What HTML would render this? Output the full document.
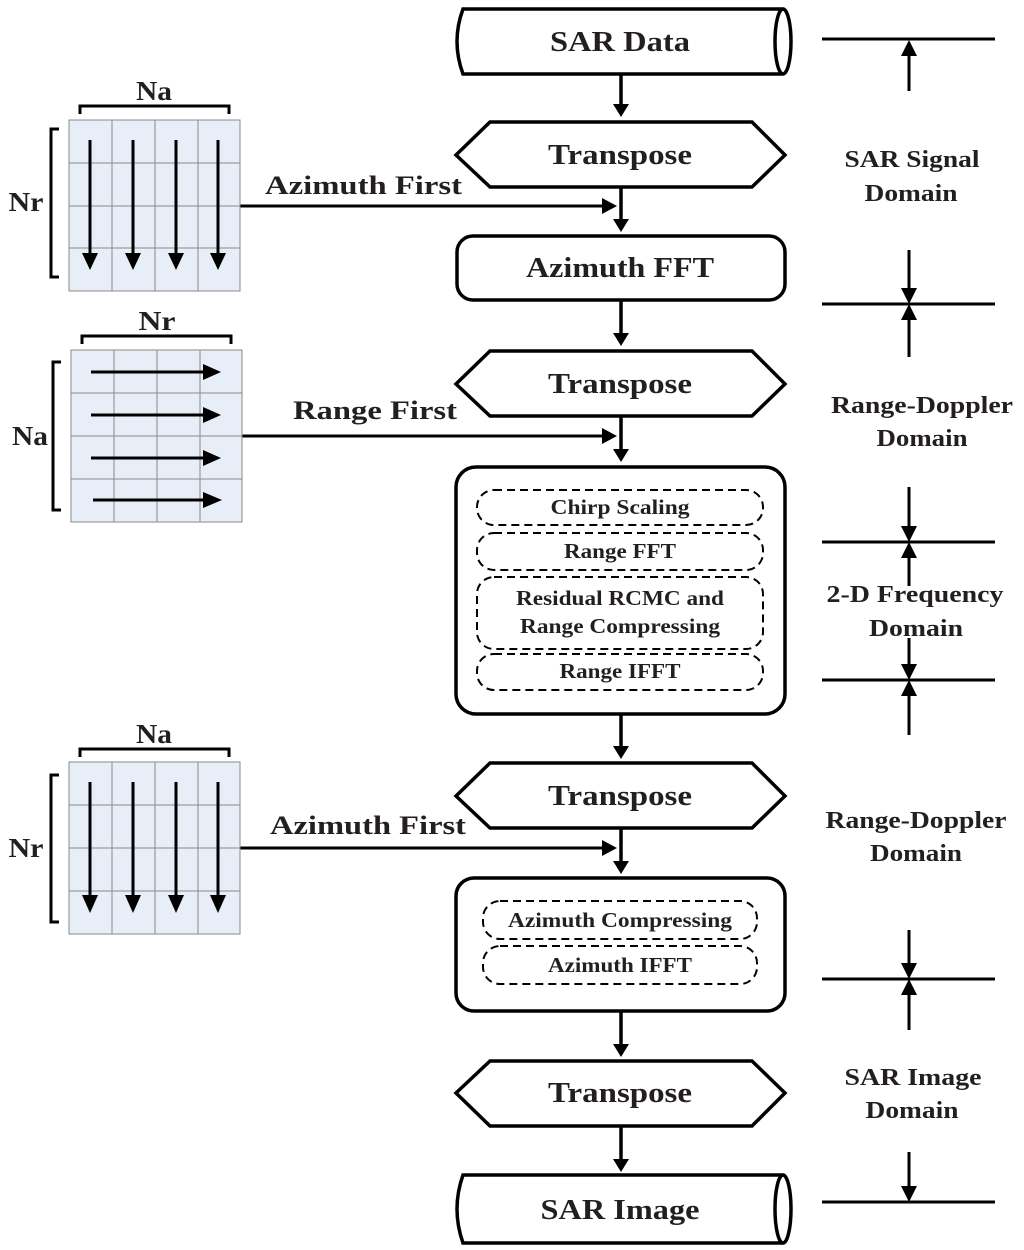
<!DOCTYPE html>
<html><head><meta charset="utf-8"><style>
html,body{margin:0;padding:0;background:#fff;}
svg{display:block;}
text{font-family:"Liberation Serif",serif;font-weight:bold;fill:#231f20;}
</style></head><body>
<svg width="1024" height="1250" viewBox="0 0 1024 1250" xmlns="http://www.w3.org/2000/svg">
<g stroke="#000" stroke-width="3.5" fill="none">
<path d="M463,9 L783,9 A8,32.5 0 0 1 783,74 L463,74 Q451,41.5 463,9 Z" fill="#fff"/>
<path d="M783,9 A8,32.5 0 0 0 783,74"/>
<polygon points="456,155 490,122 752,122 785,155 752,187 490,187" fill="#fff"/>
<rect x="457" y="236" width="328" height="64" rx="16" fill="#fff"/>
<polygon points="456,384 490,351 752,351 785,384 752,416 490,416" fill="#fff"/>
<rect x="456" y="467" width="329" height="247" rx="20" fill="#fff"/>
<polygon points="456,796 490,763 752,763 785,796 752,828 490,828" fill="#fff"/>
<rect x="456" y="878" width="329" height="133" rx="18" fill="#fff"/>
<polygon points="456,1093 490,1061 752,1061 785,1093 752,1126 490,1126" fill="#fff"/>
<path d="M463,1175 L783,1175 A8,34 0 0 1 783,1243 L463,1243 Q451,1209 463,1175 Z" fill="#fff"/>
<path d="M783,1175 A8,34 0 0 0 783,1243"/>
<line x1="621" y1="74" x2="621" y2="106"/>
<line x1="621" y1="187" x2="621" y2="220"/>
<line x1="621" y1="300" x2="621" y2="335"/>
<line x1="621" y1="416" x2="621" y2="450"/>
<line x1="621" y1="714" x2="621" y2="747"/>
<line x1="621" y1="828" x2="621" y2="862"/>
<line x1="621" y1="1011" x2="621" y2="1045"/>
<line x1="621" y1="1126" x2="621" y2="1160"/>
<line x1="240" y1="206" x2="604" y2="206" stroke-width="3"/>
<line x1="242" y1="436" x2="604" y2="436" stroke-width="3"/>
<line x1="240" y1="848" x2="604" y2="848" stroke-width="3"/>
</g>
<g fill="#000">
<polygon points="613,104 629,104 621,117"/>
<polygon points="613,219 629,219 621,232"/>
<polygon points="613,333 629,333 621,346"/>
<polygon points="613,449 629,449 621,462"/>
<polygon points="613,746 629,746 621,759"/>
<polygon points="613,861 629,861 621,874"/>
<polygon points="613,1044 629,1044 621,1057"/>
<polygon points="613,1159 629,1159 621,1172"/>
<polygon points="602,198 602,214 617,206"/>
<polygon points="602,428 602,444 617,436"/>
<polygon points="602,840 602,856 617,848"/>
</g>
<g stroke="#000" stroke-width="2" fill="none" stroke-dasharray="8,5">
<rect x="477" y="490" width="286" height="35" rx="17"/>
<rect x="477" y="533" width="286" height="37" rx="17"/>
<rect x="477" y="577" width="286" height="72" rx="17"/>
<rect x="477" y="654" width="286" height="36" rx="17"/>
<rect x="483" y="901" width="274" height="38" rx="17"/>
<rect x="483" y="946" width="274" height="38" rx="17"/>
</g>
<g text-anchor="middle" font-size="29" lengthAdjust="spacingAndGlyphs">
<text x="620" y="51" textLength="140" lengthAdjust="spacingAndGlyphs">SAR Data</text>
<text x="620" y="164" textLength="144" lengthAdjust="spacingAndGlyphs">Transpose</text>
<text x="620" y="277" textLength="188" lengthAdjust="spacingAndGlyphs">Azimuth FFT</text>
<text x="620" y="393" textLength="144" lengthAdjust="spacingAndGlyphs">Transpose</text>
<text x="620" y="805" textLength="144" lengthAdjust="spacingAndGlyphs">Transpose</text>
<text x="620" y="1102" textLength="144" lengthAdjust="spacingAndGlyphs">Transpose</text>
<text x="620" y="1219" textLength="159" lengthAdjust="spacingAndGlyphs">SAR Image</text>
</g>
<g text-anchor="middle" font-size="21">
<text x="620" y="514" textLength="139" lengthAdjust="spacingAndGlyphs">Chirp Scaling</text>
<text x="620" y="558" textLength="112" lengthAdjust="spacingAndGlyphs">Range FFT</text>
<text x="620" y="605" textLength="208" lengthAdjust="spacingAndGlyphs">Residual RCMC and</text>
<text x="620" y="633" textLength="200" lengthAdjust="spacingAndGlyphs">Range Compressing</text>
<text x="620" y="678" textLength="121" lengthAdjust="spacingAndGlyphs">Range IFFT</text>
<text x="620" y="927" textLength="224" lengthAdjust="spacingAndGlyphs">Azimuth Compressing</text>
<text x="620" y="972" textLength="144" lengthAdjust="spacingAndGlyphs">Azimuth IFFT</text>
</g>
<g font-size="26">
<text x="265" y="194" textLength="197" lengthAdjust="spacingAndGlyphs">Azimuth First</text>
<text x="293" y="419" textLength="164" lengthAdjust="spacingAndGlyphs">Range First</text>
<text x="270" y="834" textLength="196" lengthAdjust="spacingAndGlyphs">Azimuth First</text>
</g>
<g stroke="#000" stroke-width="3">
<line x1="822" y1="39" x2="995" y2="39"/>
<line x1="909" y1="52" x2="909" y2="91"/>
<line x1="822" y1="304" x2="995" y2="304"/>
<line x1="909" y1="250" x2="909" y2="292"/><line x1="909" y1="316" x2="909" y2="357"/>
<line x1="822" y1="542" x2="995" y2="542"/>
<line x1="909" y1="487" x2="909" y2="530"/><line x1="909" y1="554" x2="909" y2="586"/>
<line x1="822" y1="680" x2="995" y2="680"/>
<line x1="909" y1="638" x2="909" y2="668"/><line x1="909" y1="692" x2="909" y2="735"/>
<line x1="822" y1="979" x2="995" y2="979"/>
<line x1="909" y1="930" x2="909" y2="967"/><line x1="909" y1="991" x2="909" y2="1030"/>
<line x1="822" y1="1202" x2="995" y2="1202"/>
<line x1="909" y1="1152" x2="909" y2="1190"/>
</g>
<g fill="#000">
<polygon points="901,56 917,56 909,40"/>
<polygon points="901,288 917,288 909,304"/><polygon points="901,320 917,320 909,304"/>
<polygon points="901,526 917,526 909,542"/><polygon points="901,558 917,558 909,542"/>
<polygon points="901,664 917,664 909,680"/><polygon points="901,696 917,696 909,680"/>
<polygon points="901,963 917,963 909,979"/><polygon points="901,995 917,995 909,979"/>
<polygon points="901,1186 917,1186 909,1202"/>
</g>
<g text-anchor="middle" font-size="24">
<text x="912" y="167" textLength="135" lengthAdjust="spacingAndGlyphs">SAR Signal</text><text x="911" y="201" textLength="93" lengthAdjust="spacingAndGlyphs">Domain</text>
<text x="922" y="413" textLength="182" lengthAdjust="spacingAndGlyphs">Range-Doppler</text><text x="922" y="446" textLength="91" lengthAdjust="spacingAndGlyphs">Domain</text>
<text x="915" y="602" textLength="177" lengthAdjust="spacingAndGlyphs">2-D Frequency</text><text x="916" y="636" textLength="94" lengthAdjust="spacingAndGlyphs">Domain</text>
<text x="916" y="828" textLength="181" lengthAdjust="spacingAndGlyphs">Range-Doppler</text><text x="916" y="861" textLength="92" lengthAdjust="spacingAndGlyphs">Domain</text>
<text x="913" y="1085" textLength="137" lengthAdjust="spacingAndGlyphs">SAR Image</text><text x="912" y="1118" textLength="93" lengthAdjust="spacingAndGlyphs">Domain</text>
</g>
<g>
<rect x="69" y="120" width="171" height="171" fill="#e8eef7" stroke="#888" stroke-width="1"/>
<g stroke="#888" stroke-width="1">
<line x1="112" y1="120" x2="112" y2="291"/><line x1="155" y1="120" x2="155" y2="291"/><line x1="198" y1="120" x2="198" y2="291"/>
<line x1="69" y1="163" x2="240" y2="163"/><line x1="69" y1="206" x2="240" y2="206"/><line x1="69" y1="248" x2="240" y2="248"/>
</g>
<g stroke="#000" stroke-width="3">
<line x1="90" y1="140" x2="90" y2="258"/><line x1="133" y1="140" x2="133" y2="258"/><line x1="176" y1="140" x2="176" y2="258"/><line x1="218" y1="140" x2="218" y2="258"/>
</g>
<g fill="#000">
<polygon points="82,253 98,253 90,270"/><polygon points="125,253 141,253 133,270"/><polygon points="168,253 184,253 176,270"/><polygon points="210,253 226,253 218,270"/>
</g>
<path d="M80,114 L80,106 L229,106 L229,114 M59,129 L51,129 L51,277 L59,277" stroke="#000" stroke-width="3" fill="none"/>
<text x="154" y="100" text-anchor="middle" font-size="27" textLength="36" lengthAdjust="spacingAndGlyphs">Na</text>
<text x="26" y="211" text-anchor="middle" font-size="27" textLength="35" lengthAdjust="spacingAndGlyphs">Nr</text>
</g>
<g>
<rect x="71" y="350" width="171" height="172" fill="#e8eef7" stroke="#888" stroke-width="1"/>
<g stroke="#888" stroke-width="1">
<line x1="114" y1="350" x2="114" y2="522"/><line x1="157" y1="350" x2="157" y2="522"/><line x1="200" y1="350" x2="200" y2="522"/>
<line x1="71" y1="393" x2="242" y2="393"/><line x1="71" y1="436" x2="242" y2="436"/><line x1="71" y1="479" x2="242" y2="479"/>
</g>
<g stroke="#000" stroke-width="3">
<line x1="91" y1="372" x2="208" y2="372"/><line x1="91" y1="415" x2="208" y2="415"/><line x1="91" y1="458" x2="208" y2="458"/><line x1="93" y1="500" x2="208" y2="500"/>
</g>
<g fill="#000">
<polygon points="203,364 203,380 221,372"/><polygon points="203,407 203,423 221,415"/><polygon points="203,450 203,466 221,458"/><polygon points="203,492 203,508 222,500"/>
</g>
<path d="M82,344 L82,336 L231,336 L231,344 M61,362 L53,362 L53,510 L61,510" stroke="#000" stroke-width="3" fill="none"/>
<text x="157" y="330" text-anchor="middle" font-size="27" textLength="37" lengthAdjust="spacingAndGlyphs">Nr</text>
<text x="30" y="445" text-anchor="middle" font-size="27" textLength="36" lengthAdjust="spacingAndGlyphs">Na</text>
</g>
<g>
<rect x="69" y="762" width="171" height="172" fill="#e8eef7" stroke="#888" stroke-width="1"/>
<g stroke="#888" stroke-width="1">
<line x1="112" y1="762" x2="112" y2="934"/><line x1="155" y1="762" x2="155" y2="934"/><line x1="198" y1="762" x2="198" y2="934"/>
<line x1="69" y1="805" x2="240" y2="805"/><line x1="69" y1="848" x2="240" y2="848"/><line x1="69" y1="891" x2="240" y2="891"/>
</g>
<g stroke="#000" stroke-width="3">
<line x1="90" y1="782" x2="90" y2="900"/><line x1="133" y1="782" x2="133" y2="900"/><line x1="176" y1="782" x2="176" y2="900"/><line x1="218" y1="782" x2="218" y2="900"/>
</g>
<g fill="#000">
<polygon points="82,895 98,895 90,913"/><polygon points="125,895 141,895 133,913"/><polygon points="168,895 184,895 176,913"/><polygon points="210,895 226,895 218,913"/>
</g>
<path d="M80,757 L80,749 L229,749 L229,757 M59,775 L51,775 L51,922 L59,922" stroke="#000" stroke-width="3" fill="none"/>
<text x="154" y="743" text-anchor="middle" font-size="27" textLength="36" lengthAdjust="spacingAndGlyphs">Na</text>
<text x="26" y="857" text-anchor="middle" font-size="27" textLength="35" lengthAdjust="spacingAndGlyphs">Nr</text>
</g>
</svg>
</body></html>
